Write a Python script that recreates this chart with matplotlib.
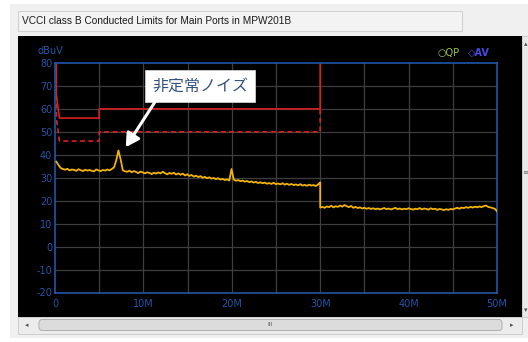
import numpy as np
import matplotlib
matplotlib.use("Agg")
import matplotlib.pyplot as plt
from matplotlib.patches import Rectangle, FancyBboxPatch

plt.rcParams["axes.unicode_minus"] = False

# ---- chart content -------------------------------------------------------
title_text = "VCCI class B Conducted Limits for Main Ports in MPW201B"
y_unit = "dBuV"
x_ticks = [0, 10, 20, 30, 40, 50]
x_tick_labels = ["0", "10M", "20M", "30M", "40M", "50M"]
y_ticks = [-20, -10, 0, 10, 20, 30, 40, 50, 60, 70, 80]

# limit lines (frequency in MHz, level in dBuV)
qp_limit_f = [0.15, 0.15, 0.5, 5, 5, 30, 30]
qp_limit_db = [80, 66, 56, 56, 60, 60, 80]
av_limit_f = [0.15, 0.15, 0.5, 5, 5, 30, 30]
av_limit_db = [66, 56, 46, 46, 50, 50, 60]

# measured spectrum, band 1: 0.15 - 30 MHz
band1_start, band1_stop = 0.15, 30.0
band1_db = [
    37.0, 35.5, 34.2, 33.8,  33.5, 33.9, 33.2, 33.6,
    33.4, 33.0, 33.7, 33.3,  32.9, 33.5, 33.1, 33.4,
    33.0, 32.8, 33.6, 33.2,  32.9, 33.4, 33.1, 33.6,
    33.2, 33.8, 34.5, 37.5,  41.9, 38.0, 33.2, 32.8,
    32.6, 33.1, 32.4, 32.9,  32.5, 32.0, 32.7, 32.3,
    31.9, 32.4, 32.1, 31.6,  32.2, 31.8, 32.3, 31.9,
    32.6, 32.0, 31.5, 32.1,  31.7, 32.2, 31.4, 31.9,
    31.3, 31.8, 31.0, 31.5,  30.8, 31.2, 30.5, 30.9,
    30.3, 30.7, 30.0, 30.4,  29.8, 30.2, 29.6, 29.9,
    29.4, 29.8, 29.2, 29.5,  29.0, 29.3, 28.8, 33.8,
    29.2, 28.7, 29.0, 28.5,  28.8, 28.3, 28.6, 28.1,
    28.4, 27.9, 28.2, 27.7,  28.0, 27.6, 27.9, 27.4,
    27.7, 27.3, 27.8, 27.2,  27.5, 27.1, 27.6, 27.0,
    27.4, 26.9, 27.3, 26.8,  27.1, 26.7, 27.2, 26.6,
    26.9, 26.5, 27.0, 26.6,  26.8, 26.4, 27.0, 28.0,
]
# measured spectrum, band 2: 30 - 50 MHz
band2_start, band2_stop = 30.0, 50.0
band2_db = [
    17.0, 17.3, 16.9, 17.5,  17.2, 17.8, 17.1, 17.6,
    17.3, 17.9, 17.4, 18.1,  17.6, 17.2, 17.7, 16.9,
    17.3, 16.8, 17.1, 16.6,  16.9, 16.5, 16.8, 16.4,
    16.7, 16.3, 16.6, 16.2,  16.5, 16.8, 16.3, 16.6,
    16.2, 16.5, 16.9, 16.3,  16.6, 16.2, 16.5, 16.3,
    16.7, 16.4, 16.1, 16.5,  16.3, 16.8, 16.2, 16.6,
    16.4, 16.1, 16.7, 16.3,  16.5, 16.0, 16.4, 16.2,
    15.9, 16.3, 16.0, 16.4,  16.2, 16.6, 16.9, 16.5,
    17.0, 16.8, 17.2, 16.9,  17.3, 17.0, 17.4, 17.1,
    17.5, 17.2, 17.6, 17.9,  17.3, 17.1, 16.8, 16.5, 15.4,
]

note_text = "非定常ノイズ"
note_center = (16.4, 70.0)
arrow_tail = (11.3, 63.0)
arrow_head = (8.0, 43.3)

# ---- styling -------------------------------------------------------------
W, H = 528, 342
BLUE = "#1f56a6"
RED = "#d82020"
TRACE = "#f2b400"
GRID = "#3e3e3e"

fig = plt.figure(figsize=(W / 100, H / 100), dpi=100, facecolor="white")

# window chrome drawn in pixel coordinates
bg = fig.add_axes([0, 0, 1, 1], zorder=0)
bg.set_xlim(0, W)
bg.set_ylim(H, 0)
bg.axis("off")
bg.add_patch(Rectangle((10, 4), W - 10, 334, facecolor="#f0f0f0", edgecolor="none"))
bg.add_patch(Rectangle((18, 11), 444, 20, facecolor="#f3f3f3", edgecolor="#d2d2d2", lw=0.8))
bg.text(22, 21, title_text, fontsize=7.3, family="Liberation Sans", color="#1a1a1a",
        va="center", ha="left")
bg.add_patch(Rectangle((18, 36), 504, 281, facecolor="black", edgecolor="none"))
# vertical scrollbar
bg.add_patch(Rectangle((522, 36), 6, 281, facecolor="#e9e9e9", edgecolor="#c8c8c8", lw=0.6))
bg.text(526, 44, "▴", fontsize=5, color="#555555", ha="center", va="center")
bg.text(526, 172, "≡", fontsize=6, color="#777777", ha="center", va="center")
bg.text(526, 310, "▾", fontsize=5, color="#555555", ha="center", va="center")
# horizontal scrollbar
bg.add_patch(Rectangle((18, 317), 504, 17, facecolor="#ececec", edgecolor="#c8c8c8", lw=0.6))
bg.text(27, 325, "◂", fontsize=5, color="#555555", ha="center", va="center")
bg.add_patch(FancyBboxPatch((39, 319.5), 463, 11, boxstyle="round,pad=0,rounding_size=3",
                            facecolor="#dcdcdc", edgecolor="#b0b0b0", lw=0.7))
bg.text(270, 325, "III", fontsize=4.5, color="#606060", ha="center", va="center")
bg.text(512, 325, "▸", fontsize=5, color="#555555", ha="center", va="center")
# unit label and legend
bg.text(50, 51, y_unit, fontsize=7, color=BLUE, ha="center", va="center")
bg.text(437, 53, "○QP", fontsize=7, color="#9cc83a", ha="left", va="center")
bg.text(468, 53, "◇AV", fontsize=7, color="#4a4ae0", ha="left", va="center",
        fontweight="bold")

# plot area
left, right, top, bottom = 55, 497, 63, 292.5
ax = fig.add_axes([left / W, (H - bottom) / H, (right - left) / W, (bottom - top) / H],
                  zorder=1)
ax.set_facecolor("black")
ax.set_xlim(0, 50)
ax.set_ylim(-20, 80)
for xv in np.arange(5, 50, 5):
    ax.axvline(xv, color=GRID, lw=0.9, zorder=0)
for yv in y_ticks[1:-1]:
    ax.axhline(yv, color=GRID, lw=0.9, zorder=0)
ax.set_yticks(y_ticks)
ax.set_xticks(x_ticks)
ax.set_xticklabels(x_tick_labels)
ax.tick_params(length=0, colors=BLUE, labelsize=7)
ax.tick_params(axis="x", pad=5)
ax.tick_params(axis="y", pad=2)
for sp in ax.spines.values():
    sp.set_color(BLUE)
    sp.set_linewidth(1.2)

# limits
ax.plot(qp_limit_f, qp_limit_db, color=RED, lw=1.2, zorder=2)
ax.plot(av_limit_f, av_limit_db, color=RED, lw=1.2, ls=(0, (3, 2)), zorder=2)

# measured trace
f1 = np.linspace(band1_start, band1_stop, len(band1_db))
f2 = np.linspace(band2_start, band2_stop, len(band2_db))
ax.plot(np.concatenate([f1, f2]), np.concatenate([band1_db, band2_db]),
        color=TRACE, lw=1.3, zorder=3)

# note with arrow
ax.text(*note_center, note_text, fontsize=11.5, family=["Noto Sans CJK JP", "DejaVu Sans"],
        color="#34527f", ha="center", va="center", zorder=5,
        bbox=dict(boxstyle="square,pad=0.45", facecolor="white", edgecolor="#d0d0d0", lw=0.6))
ax.annotate("", xy=arrow_head, xytext=arrow_tail,
            arrowprops=dict(arrowstyle="-|>,head_length=0.8,head_width=0.45", color="white",
                            lw=2.2, shrinkA=0, shrinkB=0, mutation_scale=10),
            zorder=5)

fig.savefig("out.png", dpi=100, facecolor=fig.get_facecolor())
